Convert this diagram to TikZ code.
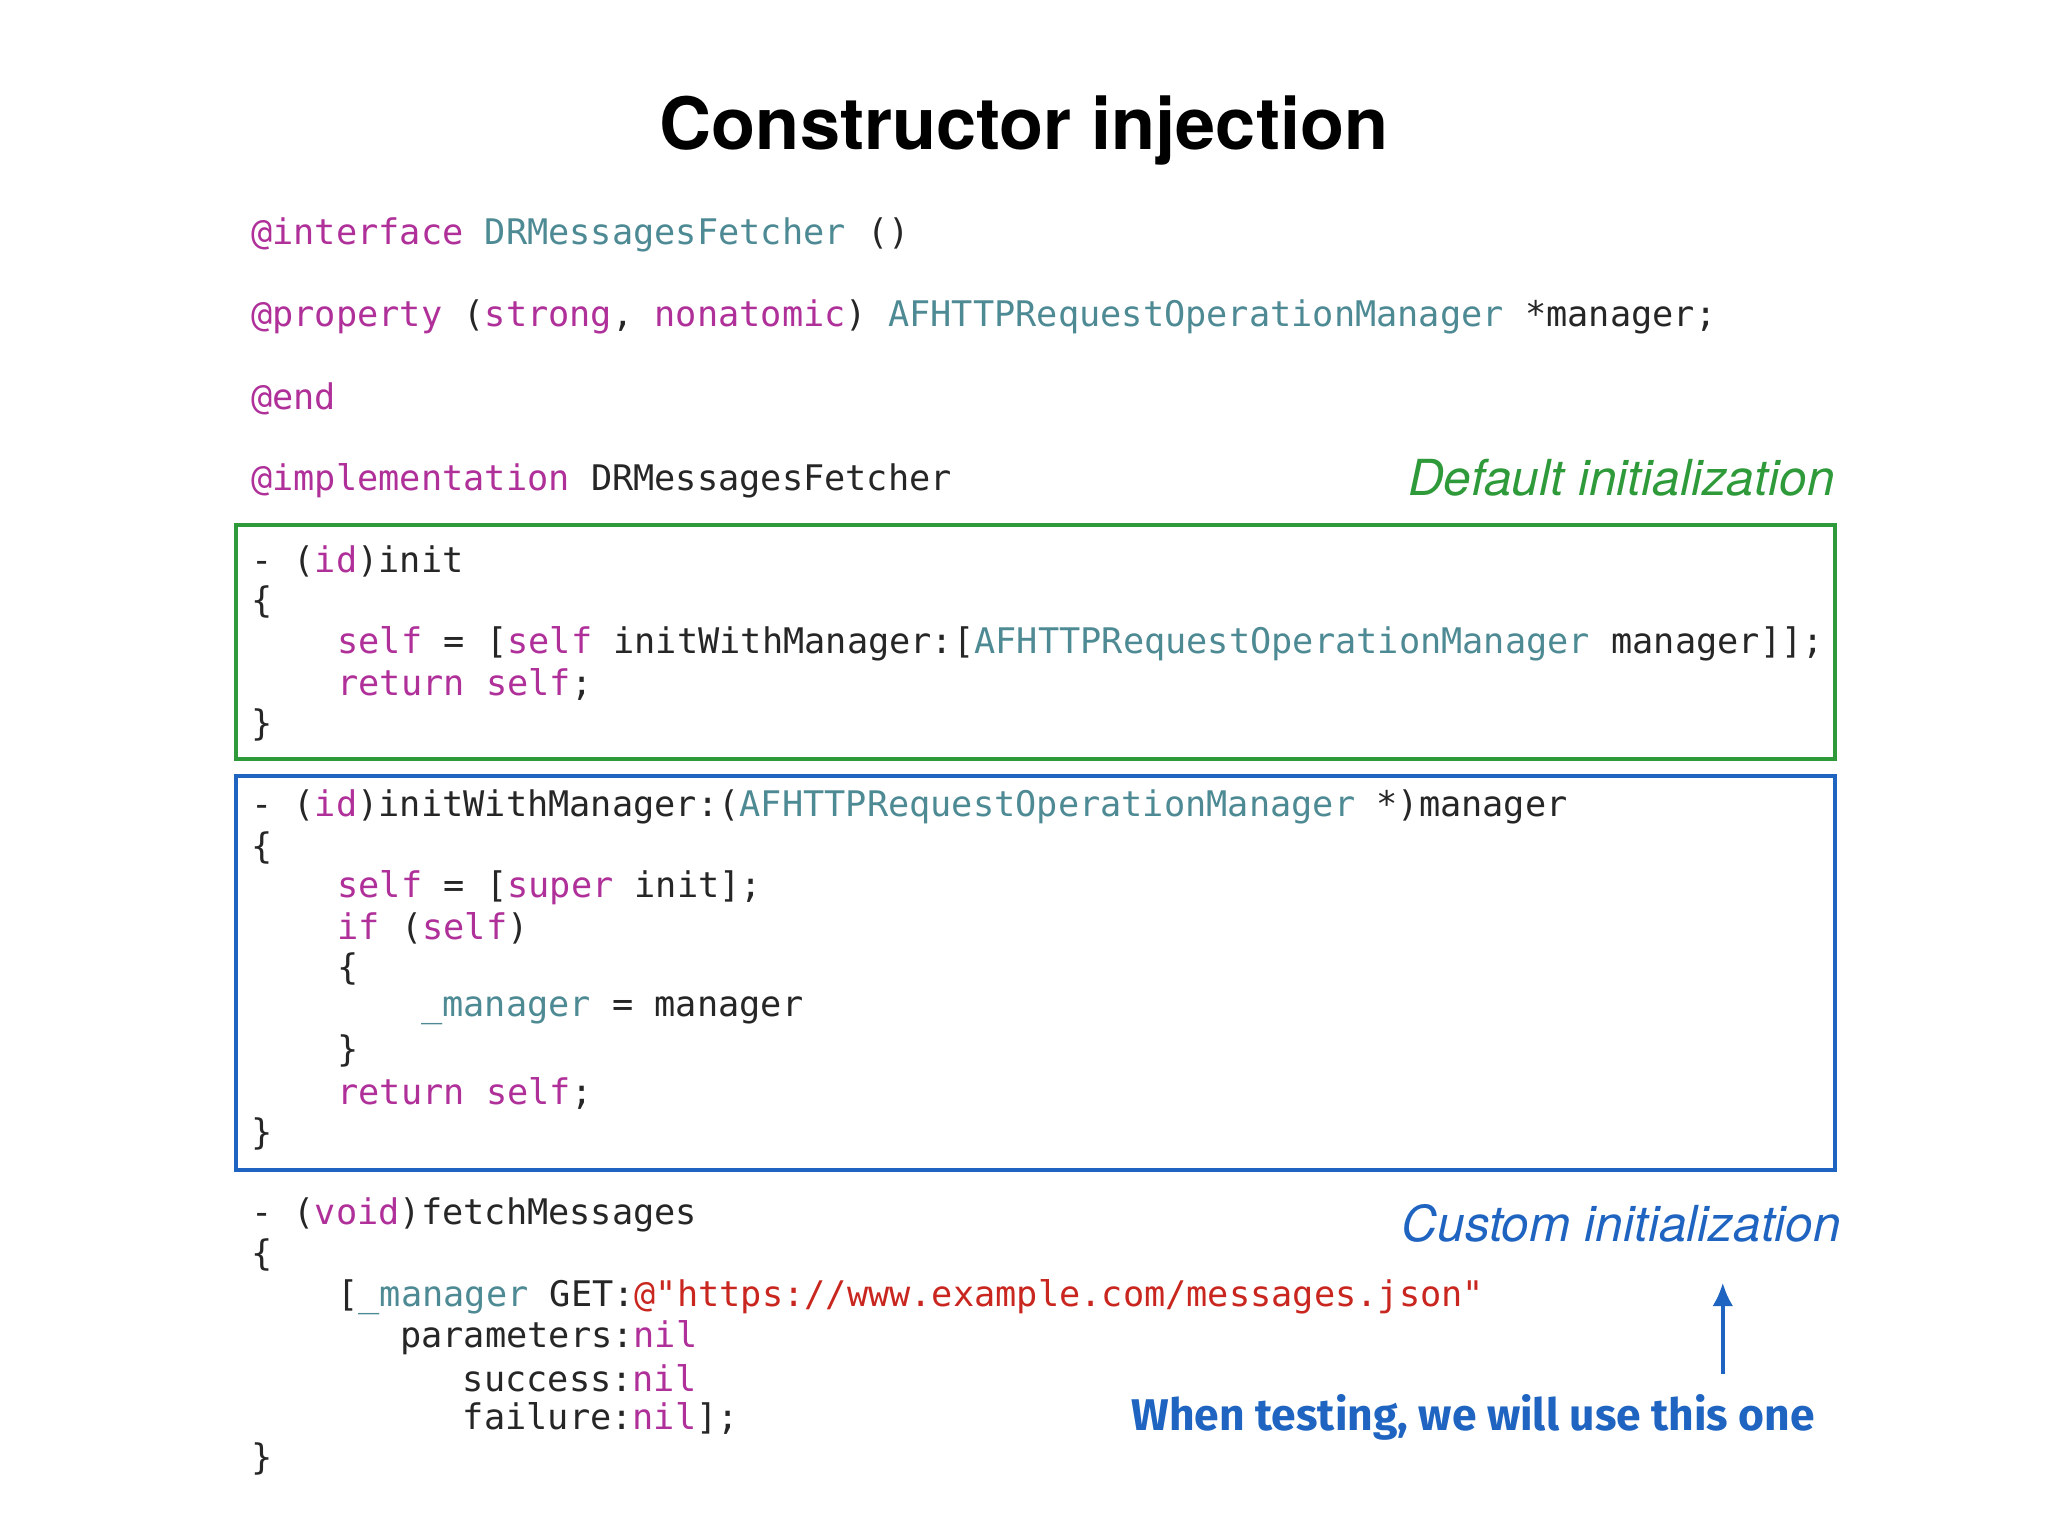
\documentclass[tikz,border=0pt]{standalone}
\usetikzlibrary{arrows.meta}
\usepackage{fontspec}
\setmainfont{TeX Gyre Heros}
\setmonofont{DejaVu Sans Mono}
\newfontfamily\hand{Fira Sans}
\definecolor{kw}{HTML}{B0309A}
\definecolor{cl}{HTML}{4E8A94}
\definecolor{st}{HTML}{C8261E}
\definecolor{gbox}{HTML}{2E9A3A}
\definecolor{bbox}{HTML}{1E64C0}
\newcommand{\kw}[1]{\textcolor{kw}{#1}}
\newcommand{\cl}[1]{\textcolor{cl}{#1}}
\newcommand{\st}[1]{\textcolor{st}{#1}}
\begin{document}
\begin{tikzpicture}[x=0.5pt,y=-0.5pt,
  code/.style={anchor=west,inner sep=0pt,font=\ttfamily\fontsize{13.5}{15}\selectfont,text=black!85},
  lbl/.style={anchor=east,inner sep=0pt,font=\itshape\fontsize{19}{22}\selectfont}]
\useasboundingbox (0,0) rectangle (1568,1176);
\node[font=\bfseries\fontsize{27.6}{32}\selectfont] (title) at (784,100) {Constructor injection};
\node[code] (l1) at (192,180) {\kw{@interface} \cl{DRMessagesFetcher} ()};
\node[code] (l2) at (192,243) {\kw{@property} (\kw{strong}, \kw{nonatomic}) \cl{AFHTTPRequestOperationManager} *manager;};
\node[code] (l3) at (192,305) {\kw{@end}};
\node[code] (l4) at (192,368) {\kw{@implementation} DRMessagesFetcher};
\node[lbl,text=gbox] (dl) at (1405,366) {Default initialization};
\draw[gbox,line width=1.5pt] (181,402) rectangle (1405,581);
\node[code] (a1) at (192,430) {- (\kw{id})init};
\node[code] (a2) at (192,461) {\{};
\node[code] (a3) at (258,493) {\kw{self} = [\kw{self} initWithManager:[\cl{AFHTTPRequestOperationManager} manager]];};
\node[code] (a4) at (258,524) {\kw{return} \kw{self};};
\node[code] (a5) at (192,555) {\}};
\draw[bbox,line width=1.5pt] (181,594) rectangle (1405,896);
\node[code] (b1) at (192,618) {- (\kw{id})initWithManager:(\cl{AFHTTPRequestOperationManager} *)manager};
\node[code] (b2) at (192,649) {\{};
\node[code] (b3) at (258,680) {\kw{self} = [\kw{super} init];};
\node[code] (b4) at (258,711) {\kw{if} (\kw{self})};
\node[code] (b5) at (258,742) {\{};
\node[code] (b6) at (322,774) {\cl{\_manager} = manager};
\node[code] (b7) at (258,805) {\}};
\node[code] (b8) at (258,837) {\kw{return} \kw{self};};
\node[code] (b9) at (192,868) {\}};
\node[code] (c1) at (192,930) {- (\kw{void})fetchMessages};
\node[code] (c2) at (192,961) {\{};
\node[code] (c3) at (258,993) {[\cl{\_manager} GET:\st{@\symbol{34}https://www.example.com/messages.json\symbol{34}}};
\node[code] (c4) at (306,1024) {parameters:\kw{nil}};
\node[code] (c5) at (354,1055) {success:\kw{nil}};
\node[code] (c6) at (354,1086) {failure:\kw{nil}];};
\node[code] (c7) at (192,1117) {\}};
\node[lbl,text=bbox] (cl) at (1410,937) {Custom initialization};
\node[inner sep=0pt,text=bbox,font=\hand\bfseries\fontsize{17}{20}\selectfont] (hw) at (1128,1085) {When testing, we will use this one};
\coordinate (as) at (1319,1052);
\coordinate (ae) at (1319,982);
\draw[bbox,line width=1.5pt,-{Latex[length=9pt,width=8pt]}] (as) -- (ae);
\end{tikzpicture}
\end{document}
